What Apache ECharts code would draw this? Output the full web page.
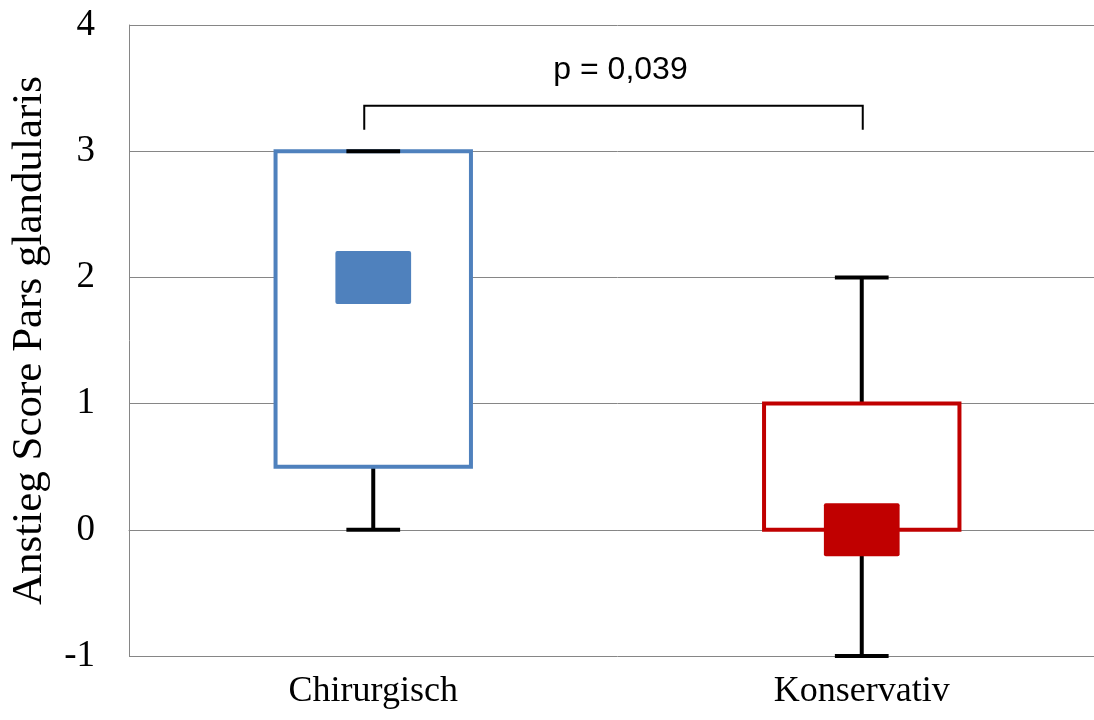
<!DOCTYPE html>
<html>
<head>
<meta charset="utf-8">
<script src="https://cdn.jsdelivr.net/npm/echarts@6/dist/echarts.min.js"></script>
<style>
html,body{margin:0;padding:0;background:#fff;overflow:hidden;width:1094px;height:720px;}
#chart{width:1106px;height:720px;}
</style>
</head>
<body>
<div id="chart"></div>
<script>
const categories = ['Chirurgisch', 'Konservativ'];
const minVals = [0, -1];
const q1Vals = [0.5, 0];
const medianVals = [2, 0];
const q3Vals = [3, 1];
const maxVals = [3, 2];
const boxColors = ['#4F81BD', '#C00000'];
const pLabel = 'p = 0,039';
const yMin = -1, yMax = 4, yInterval = 1;
const yTitle = 'Anstieg Score Pars glandularis';

const chart = echarts.init(document.getElementById('chart'));

const boxData = categories.map((c, i) => [i, minVals[i], q1Vals[i], medianVals[i], q3Vals[i], maxVals[i]]);

function renderBox(params, api) {
  const i = api.value(0);
  const band = api.size([1, 0])[0];
  const pMin = api.coord([i, api.value(1)]);
  const pQ1 = api.coord([i, api.value(2)]);
  const pMed = api.coord([i, api.value(3)]);
  const pQ3 = api.coord([i, api.value(4)]);
  const pMax = api.coord([i, api.value(5)]);
  const cx = pMed[0];
  const boxW = band * 0.40;
  const capW = band * 0.11;
  const medW = band * 0.155;
  const medTop = api.coord([i, api.value(3) + 0.21])[1];
  const medBot = api.coord([i, api.value(3) - 0.21])[1];
  const col = boxColors[i];
  const blk = '#000';
  return {
    type: 'group',
    children: [
      { type: 'line', shape: { x1: cx, y1: pQ3[1], x2: cx, y2: pMax[1] }, style: { stroke: blk, lineWidth: 4 } },
      { type: 'line', shape: { x1: cx, y1: pQ1[1], x2: cx, y2: pMin[1] }, style: { stroke: blk, lineWidth: 4 } },
      { type: 'rect', shape: { x: cx - boxW / 2, y: pQ3[1], width: boxW, height: pQ1[1] - pQ3[1] }, style: { fill: '#fff', stroke: col, lineWidth: 4 } },
      { type: 'line', shape: { x1: cx - capW / 2, y1: pMax[1], x2: cx + capW / 2, y2: pMax[1] }, style: { stroke: blk, lineWidth: 4 } },
      { type: 'line', shape: { x1: cx - capW / 2, y1: pMin[1], x2: cx + capW / 2, y2: pMin[1] }, style: { stroke: blk, lineWidth: 4 } },
      { type: 'rect', shape: { x: cx - medW / 2, y: medTop, width: medW, height: medBot - medTop, r: 2 }, style: { fill: col } }
    ]
  };
}

function renderBracket(params, api) {
  const a = api.coord([0, 3.36]);
  const b = api.coord([1, 3.36]);
  const bottom = api.coord([0, 3.17])[1];
  const txt = api.coord([0.5, 3.64]);
  const x1 = a[0] - 9, x2 = b[0] + 1;
  return {
    type: 'group',
    children: [
      { type: 'polyline', shape: { points: [[x1, bottom], [x1, a[1]], [x2, a[1]], [x2, bottom]] }, style: { stroke: '#000', lineWidth: 2, fill: null } },
      { type: 'text', style: { x: (x1 + x2) / 2 + 7, y: txt[1], text: pLabel, fill: '#000', font: '32px "Liberation Sans", Arial, sans-serif', align: 'center', verticalAlign: 'middle' } }
    ]
  };
}

chart.setOption({
  animation: false,
  backgroundColor: '#fff',
  grid: { left: 126, right: 0, top: 25, bottom: 64, containLabel: false },
  xAxis: {
    type: 'category',
    data: categories,
    axisLine: { show: true, lineStyle: { color: '#868686', width: 1 } },
    axisTick: { show: false },
    axisLabel: { color: '#000', fontFamily: '"Liberation Serif", "Times New Roman", serif', fontSize: 36, margin: 18 },
    splitLine: { show: false }
  },
  yAxis: {
    type: 'value',
    min: yMin, max: yMax, interval: yInterval,
    name: yTitle,
    nameLocation: 'middle',
    nameRotate: 90,
    nameGap: 78,
    nameTextStyle: { color: '#000', fontFamily: '"Liberation Serif", "Times New Roman", serif', fontSize: 43 },
    axisLine: { show: true, lineStyle: { color: '#868686', width: 1 } },
    axisTick: { show: false },
    axisLabel: { color: '#000', fontFamily: '"Liberation Serif", "Times New Roman", serif', fontSize: 37, margin: 34 },
    splitLine: { show: true, lineStyle: { color: '#868686', width: 1 } }
  },
  series: [
    { type: 'custom', renderItem: renderBox, data: boxData, encode: { x: 0, y: [1, 2, 3, 4, 5] }, clip: false },
    { type: 'custom', renderItem: renderBracket, data: [[0]], clip: false, silent: true }
  ]
});
</script>
</body>
</html>
